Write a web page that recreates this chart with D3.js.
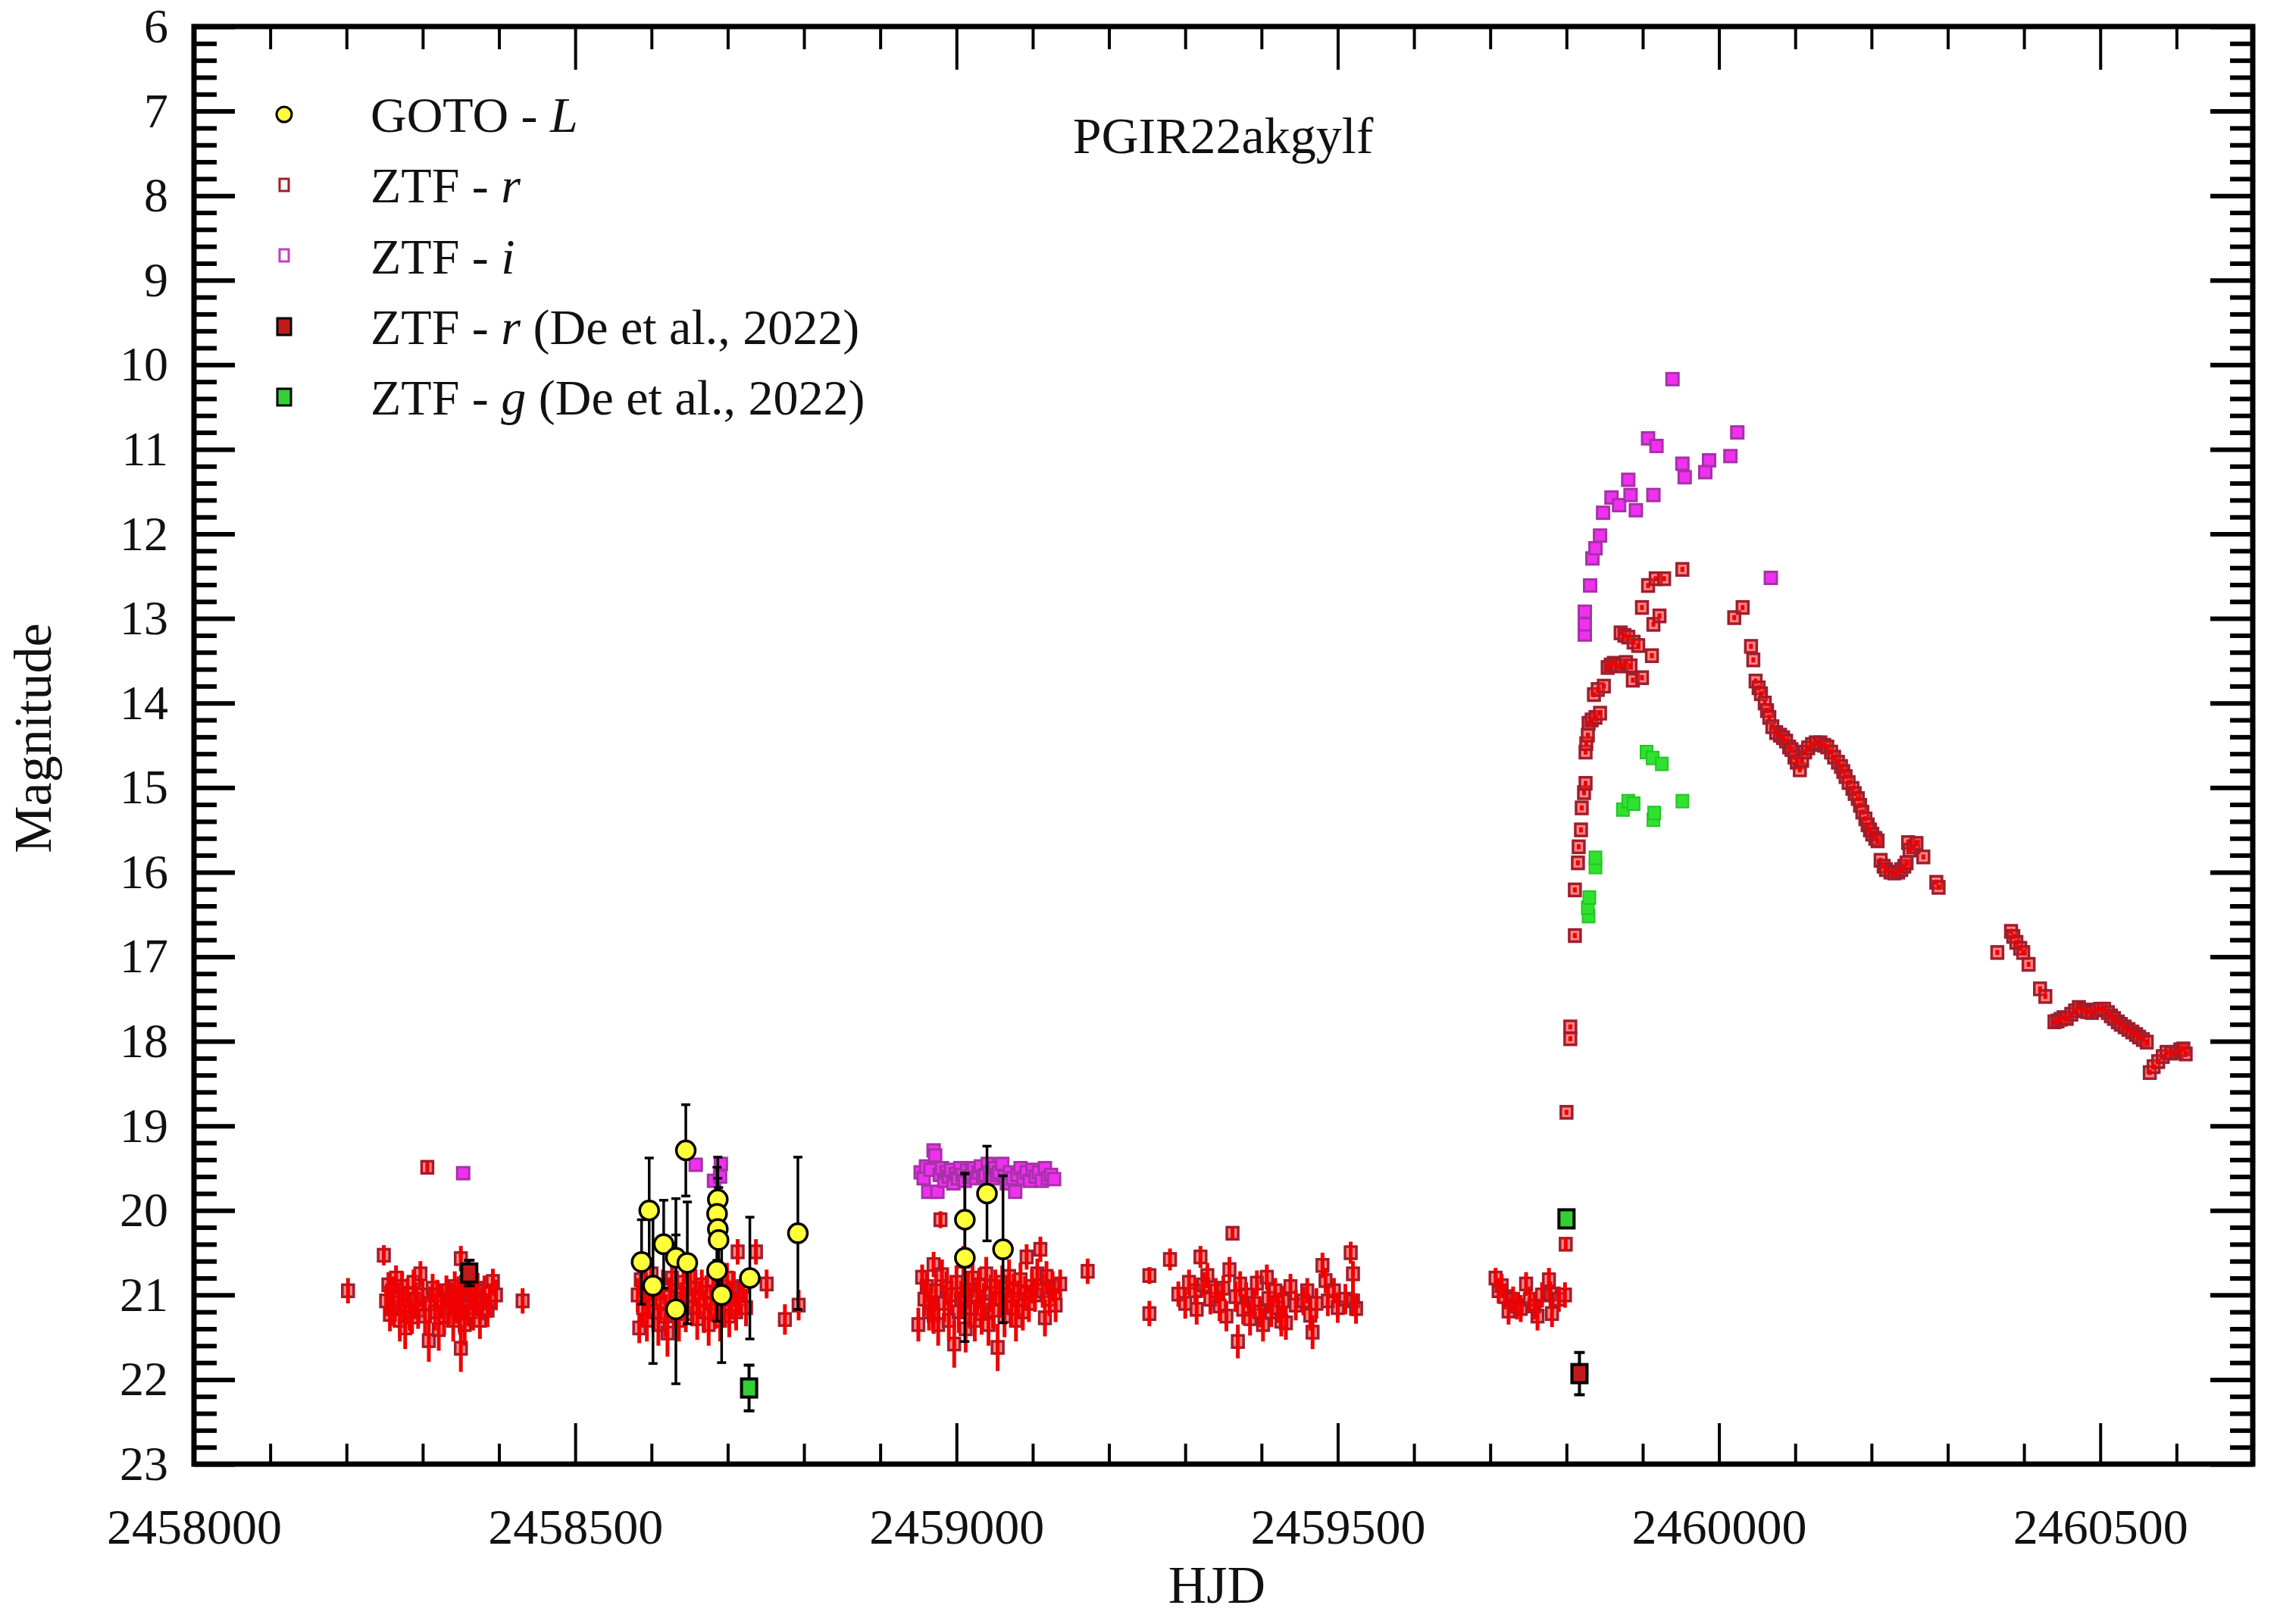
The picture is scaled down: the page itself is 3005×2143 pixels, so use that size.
<!DOCTYPE html>
<html lang="en">
<head>
<meta charset="UTF-8">
<title>PGIR22akgylf light curve</title>
<script src="https://d3js.org/d3.v7.min.js"></script>
<style>
  body { margin: 0; background: #fff; }
  svg text { font-family: 'Liberation Serif', 'DejaVu Serif', serif; fill: #111; }
</style>
</head>
<body>
<svg id="chart" width="3005" height="2143"></svg>
<script>
// ---- data: [HJD, magnitude, error] ----
const gotoL = [
  [2458587, 20.61, 0.50], [2458597, 20.00, 0.62], [2458602, 20.89, 0.92], [2458616, 20.40, 0.52],
  [2458632, 20.56, 0.70], [2458632, 21.17, 0.88], [2458645, 19.29, 0.54], [2458647, 20.62, 0.72],
  [2458687, 19.87, 0.50], [2458686, 20.04, 0.55], [2458687, 20.22, 0.60], [2458688, 20.35, 0.62],
  [2458686, 20.71, 0.60], [2458692, 21.00, 0.80], [2458729, 20.80, 0.72], [2458792, 20.27, 0.90],
  [2459011, 20.11, 0.55], [2459011, 20.56, 0.99], [2459040, 19.80, 0.56], [2459061, 20.46, 0.87]
];

// ZTF r, quiescence
const ztfRQuiet = [
  [2458202, 20.95, 0.15], [2458249, 20.53, 0.12], [2458252, 21.07, 0.18], [2458255, 20.88, 0.15],
  [2458257, 21.23, 0.20], [2458260, 20.95, 0.17], [2458262, 21.15, 0.22], [2458265, 20.80, 0.15],
  [2458268, 21.05, 0.20], [2458270, 21.30, 0.25], [2458273, 20.90, 0.18], [2458275, 21.12, 0.20],
  [2458277, 21.39, 0.25], [2458280, 20.98, 0.18], [2458283, 21.20, 0.22], [2458286, 21.26, 0.20],
  [2458288, 20.85, 0.15], [2458291, 21.05, 0.20], [2458294, 21.18, 0.22], [2458297, 20.75, 0.15],
  [2458300, 21.00, 0.18], [2458303, 21.25, 0.22], [2458306, 19.49, 0.06], [2458308, 21.54, 0.25],
  [2458310, 21.10, 0.20], [2458313, 20.92, 0.17], [2458316, 21.20, 0.22], [2458319, 21.00, 0.18],
  [2458321, 21.41, 0.25], [2458325, 21.08, 0.20], [2458328, 21.25, 0.22], [2458331, 20.95, 0.18],
  [2458334, 21.15, 0.22], [2458337, 21.05, 0.20], [2458340, 21.30, 0.25], [2458342, 20.90, 0.18],
  [2458345, 21.12, 0.22], [2458347, 20.98, 0.20], [2458349, 21.22, 0.25], [2458350, 20.57, 0.15],
  [2458350, 21.63, 0.28], [2458352, 21.05, 0.22], [2458355, 21.35, 0.25], [2458357, 20.85, 0.18],
  [2458360, 21.15, 0.22], [2458363, 20.98, 0.20], [2458366, 21.20, 0.22], [2458369, 21.05, 0.20],
  [2458372, 20.92, 0.18], [2458375, 21.30, 0.22], [2458378, 21.10, 0.20], [2458381, 20.95, 0.18],
  [2458385, 21.18, 0.20], [2458388, 21.07, 0.20], [2458392, 20.84, 0.15], [2458396, 21.00, 0.18],
  [2458431, 21.07, 0.15],
  [2458582, 21.00, 0.20], [2458584, 21.39, 0.18], [2458586, 20.82, 0.18], [2458589, 21.15, 0.22],
  [2458592, 20.95, 0.20], [2458594, 21.30, 0.25], [2458597, 21.05, 0.22], [2458600, 20.75, 0.18],
  [2458603, 21.20, 0.22], [2458606, 20.98, 0.20], [2458609, 21.35, 0.25], [2458612, 21.08, 0.22],
  [2458615, 20.88, 0.18], [2458618, 21.25, 0.25], [2458621, 21.45, 0.28], [2458624, 21.02, 0.22],
  [2458627, 20.80, 0.18], [2458630, 21.18, 0.22], [2458633, 20.95, 0.20], [2458636, 21.30, 0.25],
  [2458639, 21.05, 0.20], [2458642, 20.85, 0.18], [2458645, 21.22, 0.22], [2458648, 21.00, 0.20],
  [2458651, 20.78, 0.18], [2458654, 21.15, 0.22], [2458657, 20.92, 0.20], [2458660, 21.28, 0.25],
  [2458663, 21.05, 0.22], [2458666, 20.88, 0.18], [2458669, 21.20, 0.25], [2458672, 20.97, 0.20],
  [2458675, 21.35, 0.25], [2458678, 21.10, 0.22], [2458681, 20.82, 0.18], [2458684, 21.18, 0.22],
  [2458687, 21.00, 0.20], [2458690, 21.30, 0.25], [2458693, 20.90, 0.20], [2458696, 21.15, 0.22],
  [2458699, 20.80, 0.18], [2458702, 21.25, 0.25], [2458705, 21.05, 0.22], [2458708, 20.92, 0.20],
  [2458711, 21.20, 0.22], [2458713, 20.49, 0.15], [2458716, 21.05, 0.20], [2458720, 20.90, 0.18],
  [2458724, 21.15, 0.22], [2458737, 20.49, 0.15], [2458751, 20.87, 0.17], [2458775, 21.29, 0.18],
  [2458793, 21.12, 0.18],
  [2458950, 21.35, 0.20], [2458955, 20.79, 0.15], [2458958, 21.05, 0.20], [2458961, 20.90, 0.18],
  [2458964, 21.20, 0.22], [2458966, 21.09, 0.20], [2458970, 20.64, 0.15], [2458970, 21.24, 0.22],
  [2458973, 20.95, 0.20], [2458976, 21.35, 0.25], [2458979, 20.11, 0.10], [2458981, 20.76, 0.18],
  [2458984, 21.10, 0.22], [2458987, 20.92, 0.20], [2458990, 21.30, 0.25], [2458993, 21.00, 0.22],
  [2458997, 21.58, 0.28], [2459000, 20.85, 0.20], [2459003, 21.20, 0.25], [2459006, 21.05, 0.22],
  [2459009, 20.60, 0.18], [2459012, 21.40, 0.28], [2459015, 20.95, 0.22], [2459018, 21.15, 0.25],
  [2459021, 20.80, 0.20], [2459024, 21.30, 0.25], [2459027, 21.02, 0.22], [2459030, 20.88, 0.20],
  [2459033, 21.22, 0.25], [2459036, 21.08, 0.22], [2459039, 20.75, 0.20], [2459042, 21.35, 0.25],
  [2459045, 20.98, 0.22], [2459048, 21.18, 0.22], [2459051, 20.90, 0.20], [2459054, 21.62, 0.28],
  [2459057, 21.05, 0.22], [2459060, 20.85, 0.20], [2459063, 21.25, 0.25], [2459066, 21.00, 0.22],
  [2459069, 20.78, 0.20], [2459072, 21.15, 0.22], [2459075, 20.95, 0.20], [2459078, 21.30, 0.25],
  [2459081, 21.05, 0.22], [2459084, 20.82, 0.20], [2459087, 21.20, 0.22], [2459090, 20.98, 0.20],
  [2459092, 20.55, 0.15], [2459095, 21.10, 0.22], [2459099, 20.90, 0.20], [2459103, 21.00, 0.20],
  [2459106, 20.75, 0.18], [2459110, 20.46, 0.15], [2459113, 20.95, 0.20], [2459116, 21.27, 0.22],
  [2459118, 20.78, 0.18], [2459122, 21.05, 0.20], [2459126, 20.90, 0.18], [2459130, 21.12, 0.20],
  [2459136, 20.87, 0.17], [2459172, 20.72, 0.15],
  [2459253, 20.77, 0.10], [2459253, 21.22, 0.15], [2459280, 20.58, 0.13], [2459291, 20.99, 0.15],
  [2459300, 21.10, 0.18], [2459305, 20.85, 0.15], [2459313, 20.95, 0.15], [2459315, 21.17, 0.18],
  [2459320, 20.55, 0.13], [2459324, 20.88, 0.15], [2459329, 20.77, 0.15], [2459333, 21.05, 0.18],
  [2459340, 20.95, 0.15], [2459345, 21.13, 0.18], [2459350, 20.92, 0.15], [2459354, 21.25, 0.18],
  [2459358, 20.70, 0.15], [2459362, 20.27, 0.06], [2459366, 21.02, 0.18], [2459369, 21.55, 0.20],
  [2459372, 20.87, 0.15], [2459376, 21.17, 0.18], [2459380, 21.00, 0.15], [2459385, 21.28, 0.20],
  [2459390, 21.10, 0.18], [2459394, 20.86, 0.15], [2459398, 21.20, 0.18], [2459402, 21.35, 0.20],
  [2459407, 20.79, 0.15], [2459409, 21.04, 0.18], [2459413, 21.20, 0.18], [2459418, 20.95, 0.15],
  [2459422, 21.15, 0.18], [2459426, 21.31, 0.18], [2459428, 21.07, 0.18], [2459432, 21.33, 0.20],
  [2459438, 20.90, 0.15], [2459445, 21.12, 0.18], [2459455, 21.07, 0.17], [2459460, 20.95, 0.15],
  [2459464, 21.24, 0.18], [2459467, 21.44, 0.20], [2459472, 21.10, 0.18], [2459480, 20.65, 0.15],
  [2459484, 20.83, 0.15], [2459487, 21.07, 0.18], [2459495, 20.95, 0.15], [2459500, 21.15, 0.18],
  [2459510, 21.05, 0.18], [2459517, 20.50, 0.13], [2459520, 20.75, 0.15], [2459520, 21.07, 0.18],
  [2459524, 21.16, 0.18],
  [2459707, 20.80, 0.12], [2459711, 20.95, 0.15], [2459715, 20.89, 0.14], [2459719, 21.02, 0.15],
  [2459724, 21.19, 0.16], [2459730, 21.05, 0.15], [2459735, 21.13, 0.16], [2459740, 21.16, 0.16],
  [2459747, 20.87, 0.14], [2459752, 21.05, 0.15], [2459758, 21.13, 0.16], [2459762, 21.25, 0.17],
  [2459768, 21.00, 0.15], [2459777, 20.82, 0.14], [2459779, 20.99, 0.15], [2459781, 21.22, 0.16],
  [2459790, 21.05, 0.15], [2459798, 21.00, 0.15], [2459799, 20.40, 0.08]
];

// ZTF r, outburst rise
const ztfRRise = [
  [2459800, 18.84, 0.03], [2459805, 17.83, 0.03], [2459805, 17.97, 0.03], [2459811, 16.75, 0.03],
  [2459811, 16.21, 0.03], [2459815, 15.89, 0.03], [2459816, 15.70, 0.03], [2459819, 15.50, 0.03],
  [2459820, 15.24, 0.03], [2459823, 15.06, 0.03], [2459825, 14.95, 0.03], [2459825, 14.58, 0.03],
  [2459826, 14.48, 0.03], [2459828, 14.38, 0.03], [2459829, 14.24, 0.03], [2459833, 14.20, 0.03],
  [2459838, 14.17, 0.03], [2459844, 14.12, 0.03], [2459836, 13.90, 0.03], [2459841, 13.84, 0.03],
  [2459849, 13.80, 0.03], [2459854, 13.58, 0.03], [2459858, 13.55, 0.03], [2459862, 13.53, 0.03],
  [2459866, 13.56, 0.03], [2459872, 13.56, 0.03], [2459878, 13.52, 0.03], [2459884, 13.56, 0.03],
  [2459887, 13.73, 0.03], [2459899, 13.70, 0.03], [2459912, 13.44, 0.03], [2459871, 13.17, 0.03],
  [2459876, 13.20, 0.03], [2459881, 13.22, 0.03], [2459888, 13.28, 0.03], [2459894, 13.32, 0.03],
  [2459899, 12.87, 0.03], [2459914, 13.07, 0.03], [2459922, 12.97, 0.03], [2459907, 12.61, 0.03],
  [2459917, 12.53, 0.03], [2459928, 12.53, 0.03], [2459952, 12.42, 0.03]
];

// ZTF r, decline
const ztfRDecline = [
  [2460020, 12.99, 0.03], [2460031, 12.87, 0.03], [2460042, 13.33, 0.03], [2460045, 13.49, 0.03],
  [2460048, 13.74, 0.03], [2460052, 13.82, 0.03], [2460055, 13.89, 0.03], [2460060, 14.00, 0.03],
  [2460063, 14.09, 0.03], [2460066, 14.17, 0.03], [2460070, 14.28, 0.03], [2460075, 14.35, 0.03],
  [2460080, 14.38, 0.03], [2460084, 14.41, 0.03], [2460088, 14.45, 0.03], [2460092, 14.52, 0.03],
  [2460095, 14.55, 0.03], [2460099, 14.64, 0.03], [2460102, 14.70, 0.03], [2460106, 14.79, 0.03],
  [2460109, 14.68, 0.03], [2460113, 14.58, 0.03], [2460117, 14.53, 0.03], [2460122, 14.49, 0.03],
  [2460127, 14.47, 0.03], [2460133, 14.47, 0.03], [2460138, 14.50, 0.03], [2460142, 14.52, 0.03],
  [2460147, 14.58, 0.03], [2460151, 14.64, 0.03], [2460156, 14.70, 0.03], [2460160, 14.75, 0.03],
  [2460163, 14.81, 0.03], [2460166, 14.87, 0.03], [2460170, 14.94, 0.03], [2460175, 15.01, 0.03],
  [2460178, 15.07, 0.03], [2460182, 15.13, 0.03], [2460185, 15.21, 0.03], [2460188, 15.29, 0.03],
  [2460192, 15.37, 0.03], [2460195, 15.44, 0.03], [2460198, 15.50, 0.03], [2460201, 15.55, 0.03],
  [2460205, 15.60, 0.03], [2460208, 15.63, 0.03], [2460212, 15.86, 0.03], [2460216, 15.93, 0.03],
  [2460219, 15.97, 0.03], [2460225, 16.00, 0.03], [2460230, 16.01, 0.03], [2460235, 16.00, 0.03],
  [2460239, 15.97, 0.03], [2460243, 15.93, 0.03], [2460246, 15.89, 0.03], [2460248, 15.65, 0.03],
  [2460250, 15.74, 0.03], [2460255, 15.70, 0.03], [2460259, 15.66, 0.03], [2460268, 15.82, 0.03],
  [2460285, 16.12, 0.03], [2460288, 16.18, 0.03],
  [2460365, 16.95, 0.03], [2460383, 16.70, 0.03], [2460386, 16.76, 0.03], [2460390, 16.83, 0.03],
  [2460395, 16.90, 0.03], [2460399, 16.95, 0.03], [2460406, 17.09, 0.03], [2460421, 17.38, 0.03],
  [2460428, 17.47, 0.03], [2460440, 17.77, 0.03], [2460444, 17.76, 0.03], [2460448, 17.74, 0.03],
  [2460452, 17.72, 0.03], [2460456, 17.73, 0.03], [2460462, 17.68, 0.03], [2460467, 17.64, 0.03],
  [2460472, 17.60, 0.03], [2460477, 17.63, 0.03], [2460483, 17.65, 0.03], [2460489, 17.66, 0.03],
  [2460495, 17.63, 0.03], [2460500, 17.62, 0.03], [2460505, 17.62, 0.03], [2460510, 17.66, 0.03],
  [2460514, 17.70, 0.03], [2460518, 17.73, 0.03], [2460523, 17.77, 0.03], [2460527, 17.80, 0.03],
  [2460532, 17.83, 0.03], [2460537, 17.86, 0.03], [2460542, 17.89, 0.03], [2460547, 17.92, 0.03],
  [2460551, 17.95, 0.03], [2460556, 17.98, 0.03], [2460561, 18.01, 0.03], [2460565, 18.37, 0.03],
  [2460570, 18.30, 0.03], [2460576, 18.24, 0.03], [2460582, 18.18, 0.03], [2460587, 18.13, 0.03],
  [2460593, 18.14, 0.03], [2460600, 18.13, 0.03], [2460605, 18.10, 0.03], [2460609, 18.09, 0.03],
  [2460612, 18.15, 0.03]
];

// ZTF i
const ztfI = [
  [2458353, 19.56, 0.05], [2458658, 19.46, 0.05], [2458682, 19.65, 0.05], [2458691, 19.45, 0.05],
  [2458690, 19.60, 0.05],
  [2458953, 19.55, 0.08], [2458957, 19.62, 0.08], [2458960, 19.48, 0.08], [2458963, 19.78, 0.08],
  [2458966, 19.52, 0.08], [2458970, 19.29, 0.08], [2458972, 19.35, 0.08], [2458975, 19.78, 0.08],
  [2458978, 19.58, 0.08], [2458981, 19.50, 0.08], [2458984, 19.65, 0.08], [2458987, 19.55, 0.08],
  [2458990, 19.60, 0.08], [2458993, 19.52, 0.08], [2458996, 19.68, 0.08], [2458999, 19.57, 0.08],
  [2459002, 19.62, 0.08], [2459005, 19.50, 0.08], [2459008, 19.58, 0.08], [2459011, 19.65, 0.08],
  [2459014, 19.53, 0.08], [2459017, 19.60, 0.08], [2459020, 19.56, 0.08], [2459023, 19.50, 0.08],
  [2459026, 19.62, 0.08], [2459029, 19.55, 0.08], [2459032, 19.48, 0.08], [2459035, 19.60, 0.08],
  [2459038, 19.58, 0.08], [2459041, 19.45, 0.08], [2459044, 19.55, 0.08], [2459047, 19.62, 0.08],
  [2459050, 19.50, 0.08], [2459053, 19.58, 0.08], [2459056, 19.55, 0.08], [2459060, 19.45, 0.08],
  [2459063, 19.60, 0.08], [2459066, 19.68, 0.08], [2459070, 19.55, 0.08], [2459074, 19.62, 0.08],
  [2459077, 19.78, 0.08], [2459080, 19.58, 0.08], [2459084, 19.50, 0.08], [2459088, 19.62, 0.08],
  [2459092, 19.55, 0.08], [2459096, 19.65, 0.08], [2459100, 19.52, 0.08], [2459104, 19.60, 0.08],
  [2459108, 19.55, 0.08], [2459112, 19.65, 0.08], [2459116, 19.50, 0.08], [2459120, 19.62, 0.08],
  [2459124, 19.58, 0.08], [2459128, 19.63, 0.08],
  [2459824, 13.19, 0.03], [2459824, 13.07, 0.03], [2459824, 12.92, 0.03], [2459831, 12.61, 0.03],
  [2459834, 12.29, 0.03], [2459838, 12.17, 0.03], [2459844, 12.02, 0.03], [2459848, 11.75, 0.03],
  [2459859, 11.57, 0.03], [2459869, 11.66, 0.03], [2459881, 11.36, 0.03], [2459884, 11.54, 0.03],
  [2459891, 11.72, 0.03], [2459914, 11.54, 0.03], [2459907, 10.87, 0.03], [2459918, 10.96, 0.03],
  [2459939, 10.17, 0.03], [2459952, 11.17, 0.03], [2459955, 11.33, 0.03], [2459987, 11.13, 0.03],
  [2459982, 11.27, 0.03], [2460015, 11.08, 0.03], [2460024, 10.80, 0.03], [2460068, 12.52, 0.03]
];

// ZTF g during the rise
const ztfGRise = [
  [2459829, 16.52, 0.03], [2459828, 16.42, 0.03], [2459830, 16.30, 0.03], [2459838, 15.94, 0.03],
  [2459838, 15.83, 0.03], [2459874, 15.26, 0.03], [2459881, 15.16, 0.03], [2459888, 15.19, 0.03],
  [2459914, 15.38, 0.03], [2459915, 15.30, 0.03], [2459952, 15.16, 0.03], [2459905, 14.58, 0.03],
  [2459913, 14.65, 0.03], [2459925, 14.72, 0.03]
];

// De et al. (2022)
const deR = [[2458361, 20.74, 0.15], [2459817, 21.93, 0.25]];
const deG = [[2458728, 22.10, 0.27], [2459800, 20.10, 0.05]];

const xMajor = [2458000, 2458500, 2459000, 2459500, 2460000, 2460500];
const yMajor = d3.range(6, 24);

// ---- layout ----
const L = 256, R = 2973, T = 35, B = 1932;
const x = d3.scaleLinear().domain([2458000, 2460700]).range([L, R]);
const y = d3.scaleLinear().domain([6, 23]).range([T, B]);
const FONT = "'Liberation Serif', 'DejaVu Serif', serif";

const svg = d3.select('#chart');
svg.append('rect').attr('width', 3005).attr('height', 2143).attr('fill', '#fff');

// ---- axes ----
const xMinor = d3.range(2458100, 2460700, 100).filter(v => !xMajor.includes(v));
const yMinor = d3.range(31, 115).filter(v => v % 5).map(v => v / 5);

function styleAxis(g, width) {
  g.select('.domain').remove();
  g.selectAll('.tick line').attr('stroke', '#000').attr('stroke-width', width);
  g.attr('font-family', FONT).attr('font-size', 66);
  g.selectAll('text').attr('fill', '#111');
}

svg.append('g').attr('transform', `translate(0,${B})`)
  .call(d3.axisBottom(x).tickValues(xMajor).tickSize(-54).tickPadding(58).tickFormat(d3.format('d')))
  .call(g => styleAxis(g, 4));
svg.append('g').attr('transform', `translate(0,${B})`)
  .call(d3.axisBottom(x).tickValues(xMinor).tickSize(-27).tickFormat(''))
  .call(g => styleAxis(g, 4));
svg.append('g').attr('transform', `translate(0,${T})`)
  .call(d3.axisTop(x).tickValues(xMajor).tickSize(-57).tickFormat(''))
  .call(g => styleAxis(g, 4));
svg.append('g').attr('transform', `translate(0,${T})`)
  .call(d3.axisTop(x).tickValues(xMinor).tickSize(-30).tickFormat(''))
  .call(g => styleAxis(g, 4));

svg.append('g').attr('transform', `translate(${L},0)`)
  .call(d3.axisLeft(y).tickValues(yMajor).tickSize(-54).tickPadding(34).tickFormat(d3.format('d')))
  .call(g => styleAxis(g, 6))
  .call(g => g.attr('font-size', 64));
svg.append('g').attr('transform', `translate(${L},0)`)
  .call(d3.axisLeft(y).tickValues(yMinor).tickSize(-30).tickFormat(''))
  .call(g => styleAxis(g, 6));
svg.append('g').attr('transform', `translate(${R},0)`)
  .call(d3.axisRight(y).tickValues(yMajor).tickSize(-56).tickFormat(''))
  .call(g => styleAxis(g, 6));
svg.append('g').attr('transform', `translate(${R},0)`)
  .call(d3.axisRight(y).tickValues(yMinor).tickSize(-30).tickFormat(''))
  .call(g => styleAxis(g, 6));

svg.append('rect').attr('x', L).attr('y', T).attr('width', R - L).attr('height', B - T)
  .attr('fill', 'none').attr('stroke', '#000').attr('stroke-width', 7);

// ---- marks ----
function errorBars(data, color, width, cap) {
  const g = svg.append('g').attr('stroke', color).attr('stroke-width', width);
  g.selectAll('line.bar').data(data).join('line').attr('class', 'bar')
    .attr('x1', d => x(d[0])).attr('x2', d => x(d[0]))
    .attr('y1', d => y(d[1] - d[2])).attr('y2', d => y(d[1] + d[2]));
  if (cap) {
    [-1, 1].forEach(s => {
      g.selectAll(null).data(data).join('line')
        .attr('x1', d => x(d[0]) - cap).attr('x2', d => x(d[0]) + cap)
        .attr('y1', d => y(d[1] + s * d[2])).attr('y2', d => y(d[1] + s * d[2]));
    });
  }
}

function squares(data, w, h, fill, stroke, sw) {
  return svg.append('g').selectAll('rect').data(data).join('rect')
    .attr('x', d => x(d[0]) - w / 2).attr('y', d => y(d[1]) - h / 2)
    .attr('width', w).attr('height', h)
    .attr('fill', fill).attr('stroke', stroke).attr('stroke-width', sw);
}

const ztfR = ztfRQuiet.concat(ztfRRise, ztfRDecline);
squares(ztfR, 15, 16, '#ff2020', '#a11d2c', 3.5).attr('fill-opacity', 0.55);
errorBars(ztfR, '#f00000', 5, 0);

errorBars(ztfI, '#ff10ff', 4, 0);
squares(ztfI, 16, 16, '#f030f0', '#a632a6', 3);

squares(ztfGRise, 16, 17, '#2fe22f', '#25c425', 2);

errorBars(gotoL, '#000', 3.5, 6);
svg.append('g').selectAll('circle').data(gotoL).join('circle')
  .attr('cx', d => x(d[0])).attr('cy', d => y(d[1])).attr('r', 12.5)
  .attr('fill', '#ffff3a').attr('stroke', '#000').attr('stroke-width', 3.5);

errorBars(deR, '#000', 4, 7);
squares(deR, 20, 24, '#c21a1a', '#000', 4);
errorBars(deG, '#000', 4, 7);
squares(deG, 20, 24, '#33d033', '#000', 4);

// ---- legend ----
const legend = [
  { pre: 'GOTO - ', it: 'L', post: '' },
  { pre: 'ZTF - ', it: 'r', post: '' },
  { pre: 'ZTF - ', it: 'i', post: '' },
  { pre: 'ZTF - ', it: 'r', post: ' (De et al., 2022)' },
  { pre: 'ZTF - ', it: 'g', post: ' (De et al., 2022)' }
];
const lg = svg.append('g').attr('font-family', FONT).attr('font-size', 66);
legend.forEach((e, i) => {
  const cy = 151 + i * 93.3;
  const t = lg.append('text').attr('x', 489).attr('y', cy + 23).attr('fill', '#111');
  t.append('tspan').text(e.pre);
  t.append('tspan').attr('font-style', 'italic').text(e.it);
  if (e.post) t.append('tspan').text(e.post);
});
lg.append('circle').attr('cx', 375).attr('cy', 151).attr('r', 10)
  .attr('fill', '#ffff3a').attr('stroke', '#000').attr('stroke-width', 3);
lg.append('rect').attr('x', 369).attr('y', 236).attr('width', 12).attr('height', 16)
  .attr('fill', 'none').attr('stroke', '#a11d2c').attr('stroke-width', 3);
lg.append('rect').attr('x', 369).attr('y', 329).attr('width', 12).attr('height', 16)
  .attr('fill', 'none').attr('stroke', '#c040c0').attr('stroke-width', 3);
lg.append('rect').attr('x', 366).attr('y', 420).attr('width', 18).attr('height', 22)
  .attr('fill', '#c21a1a').attr('stroke', '#000').attr('stroke-width', 3);
lg.append('rect').attr('x', 366).attr('y', 513).attr('width', 18).attr('height', 22)
  .attr('fill', '#33d033').attr('stroke', '#000').attr('stroke-width', 3);

// ---- titles ----
svg.append('text').attr('x', 1614).attr('y', 202).attr('text-anchor', 'middle')
  .attr('font-family', FONT).attr('font-size', 68).text('PGIR22akgylf');
svg.append('text').attr('x', 1606).attr('y', 2115).attr('text-anchor', 'middle')
  .attr('font-family', FONT).attr('font-size', 70).text('HJD');
svg.append('text').attr('transform', 'translate(67,974) rotate(-90)').attr('text-anchor', 'middle')
  .attr('font-family', FONT).attr('font-size', 70).text('Magnitude');
</script>
</body>
</html>
